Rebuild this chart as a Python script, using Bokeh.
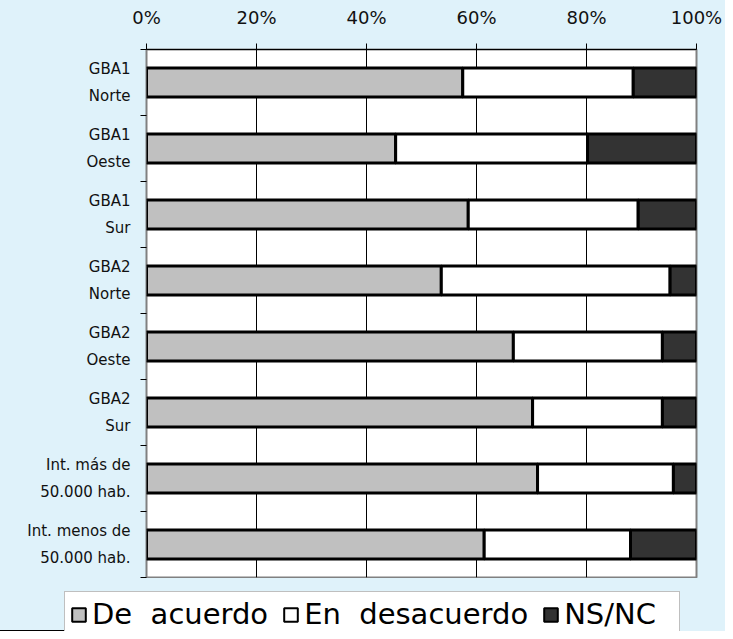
from bokeh.plotting import figure
from bokeh.models import (ColumnDataSource, Range1d, FixedTicker, PrintfTickFormatter,
                          Legend, LegendItem)
from bokeh.layouts import column, row
from bokeh.embed import file_html
from bokeh.resources import INLINE

categories = ["GBA1\nNorte", "GBA1\nOeste", "GBA1\nSur", "GBA2\nNorte",
              "GBA2\nOeste", "GBA2\nSur", "Int. más de\n50.000 hab.",
              "Int. menos de\n50.000 hab."]
de_acuerdo = [57.5, 45.3, 58.5, 53.6, 66.7, 70.2, 71.1, 61.4]
en_desacuerdo = [31.0, 34.9, 30.9, 41.6, 27.1, 23.6, 24.7, 26.6]
ns_nc = [11.5, 19.8, 10.6, 4.8, 6.2, 6.2, 4.2, 12.0]
series_names = ["De\u00a0\u00a0acuerdo", "En\u00a0\u00a0desacuerdo", "NS/NC"]
series_colors = ["#C0C0C0", "#FFFFFF", "#333333"]
x_ticks = [0, 20, 40, 60, 80, 100]

n = len(categories)
ypos = [n - i - 0.5 for i in range(n)]
bounds = list(range(n + 1))

src = ColumnDataSource(dict(
    y=ypos,
    a=de_acuerdo,
    d=en_desacuerdo,
    s=ns_nc,
))

FONT = "DejaVu Sans"
BG = "#DFF2FA"

p = figure(width=725, height=578, output_backend="svg", toolbar_location=None,
           x_range=Range1d(0, 100), y_range=Range1d(0, n),
           x_axis_location="above",
           min_border_left=146, min_border_right=29, min_border_top=49,
           min_border_bottom=1)
p.background_fill_color = "white"
p.border_fill_color = BG
p.outline_line_color = "#808080"
p.outline_line_width = 2

p.hbar_stack(["a", "d", "s"], y="y", height=0.44, source=src,
             fill_color=series_colors, line_color="black", line_width=3)

# x axis (top)
xa = p.xaxis[0]
xa.ticker = FixedTicker(ticks=x_ticks, minor_ticks=[])
xa.formatter = PrintfTickFormatter(format="%d%%")
xa.major_label_text_font = FONT
xa.major_label_text_font_size = "18px"
xa.major_label_text_color = "#111111"
xa.major_tick_in = 0
xa.major_tick_out = 6
xa.major_tick_line_color = "black"
xa.axis_line_color = "black"
xa.major_label_standoff = 16

# y axis
ya = p.yaxis[0]
ya.ticker = FixedTicker(ticks=ypos, minor_ticks=bounds)
ya.major_label_overrides = {y: c for y, c in zip(ypos, categories)}
ya.major_label_text_font = FONT
ya.major_label_text_font_size = "15px"
ya.major_label_text_color = "#111111"
ya.major_label_text_line_height = 1.5
ya.major_tick_in = 0
ya.major_tick_out = 0
ya.minor_tick_in = 0
ya.minor_tick_out = 6
ya.minor_tick_line_color = "black"
ya.axis_line_color = None
ya.major_label_standoff = 10

p.xgrid.ticker = FixedTicker(ticks=x_ticks)
p.xgrid.grid_line_color = "black"
p.xgrid.grid_line_width = 1
p.ygrid.grid_line_color = None

# legend strip (separate figure, proxies drawn outside its visible range)
lf = figure(width=725, height=53, output_backend="svg", toolbar_location=None,
            x_range=Range1d(0, 100), y_range=Range1d(100, 101),
            x_axis_type=None, y_axis_type=None,
            min_border_left=0, min_border_right=0, min_border_top=0,
            min_border_bottom=0)
lf.background_fill_color = BG
lf.border_fill_color = BG
lf.outline_line_color = None
lf.xgrid.grid_line_color = None
lf.ygrid.grid_line_color = None

proxies = []
for name, col, key in zip(series_names, series_colors, ["a", "d", "s"]):
    r = lf.hbar(y="y", right=key, left=0, height=0.44, source=src,
                fill_color=col, line_color="black", line_width=2)
    proxies.append(LegendItem(label=name, renderers=[r]))

legend = Legend(items=proxies, orientation="horizontal", location=(64, -6))
legend.label_text_font = FONT
legend.label_text_font_size = "29px"
legend.label_text_color = "black"
legend.glyph_width = 17
legend.glyph_height = 17
legend.label_standoff = 5
legend.label_width = 110
legend.spacing = 14
legend.padding = 5
legend.margin = 0
legend.border_line_color = "#808080"
legend.border_line_width = 1
legend.background_fill_color = "white"
legend.background_fill_alpha = 1
lf.add_layout(legend)

layout = column(p, row(lf), spacing=0)
layout.background = BG

open("out.html", "w").write(file_html(layout, INLINE))
